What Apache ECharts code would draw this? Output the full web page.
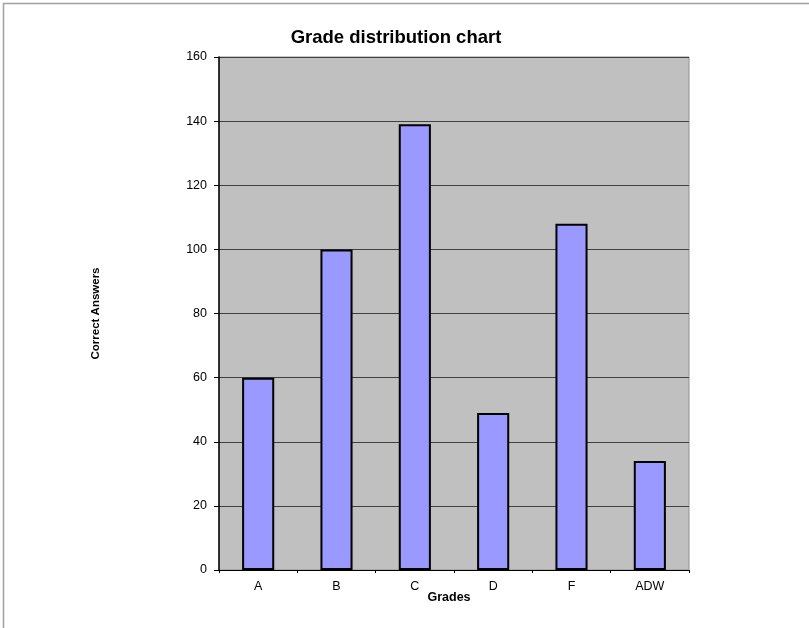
<!DOCTYPE html>
<html>
<head>
<meta charset="utf-8">
<script src="https://cdn.jsdelivr.net/npm/echarts@6/dist/echarts.min.js"></script>
<style>
  html, body { margin: 0; padding: 0; background: #fff; }
  #chart { width: 809px; height: 628px; }
</style>
</head>
<body>
<div id="chart"></div>
<script>
// grades and counts
const grades = ['A', 'B', 'C', 'D', 'F', 'ADW'];
const correctAnswers = [60, 100, 139, 49, 108, 34];

const chart = echarts.init(document.getElementById('chart'), null, { renderer: 'canvas' });

const option = {
  animation: false,
  backgroundColor: '#ffffff',
  title: {
    text: 'Grade distribution chart',
    left: 391,
    textAlign: 'center',
    top: 23,
    textStyle: { fontFamily: 'Liberation Sans, Arial', fontSize: 18.5, fontWeight: 'bold', color: '#000' }
  },
  grid: {
    left: 219, right: 120, top: 57, bottom: 58,
    show: true,
    backgroundColor: '#c0c0c0',
    borderColor: '#909090',
    borderWidth: 1
  },
  xAxis: {
    type: 'category',
    data: grades,
    name: 'Grades',
    nameLocation: 'middle',
    nameGap: 21,
    nameMoveOverlap: false,
    nameTextStyle: { fontFamily: 'Liberation Sans, Arial', fontSize: 12.5, fontWeight: 'bold', color: '#000', padding: [0, 0, 0, -10] },
    axisLine: { lineStyle: { color: '#000', width: 1 } },
    axisTick: { show: true, length: 3, lineStyle: { color: '#000' } },
    axisLabel: { fontFamily: 'Liberation Sans, Arial', fontSize: 12.5, color: '#000', margin: 10 }
  },
  yAxis: {
    type: 'value',
    min: 0, max: 160, interval: 20,
    name: 'Correct Answers',
    nameLocation: 'middle',
    nameGap: 117,
    nameMoveOverlap: false,
    nameRotate: 90,
    nameTextStyle: { fontFamily: 'Liberation Sans, Arial', fontSize: 11.5, fontWeight: 'bold', color: '#000' },
    axisLine: { show: true, lineStyle: { color: '#000', width: 1.5 } },
    axisTick: { show: true, length: 5, lineStyle: { color: '#000' } },
    axisLabel: { fontFamily: 'Liberation Sans, Arial', fontSize: 12.5, color: '#000', margin: 12 },
    splitLine: { show: true, lineStyle: { color: '#404040', width: 1 } }
  },
  series: [{
    type: 'bar',
    data: correctAnswers,
    barWidth: '41%',
    itemStyle: { color: '#9999ff', borderColor: '#000', borderWidth: 2 }
  }],
  graphic: [
    { type: 'line', shape: { x1: 3, y1: 3.5, x2: 809, y2: 3.5 }, style: { stroke: '#a0a0a0', lineWidth: 1.5 } },
    { type: 'line', shape: { x1: 3.5, y1: 3, x2: 3.5, y2: 628 }, style: { stroke: '#a0a0a0', lineWidth: 1.5 } }
  ]
};

chart.setOption(option);
</script>
</body>
</html>
